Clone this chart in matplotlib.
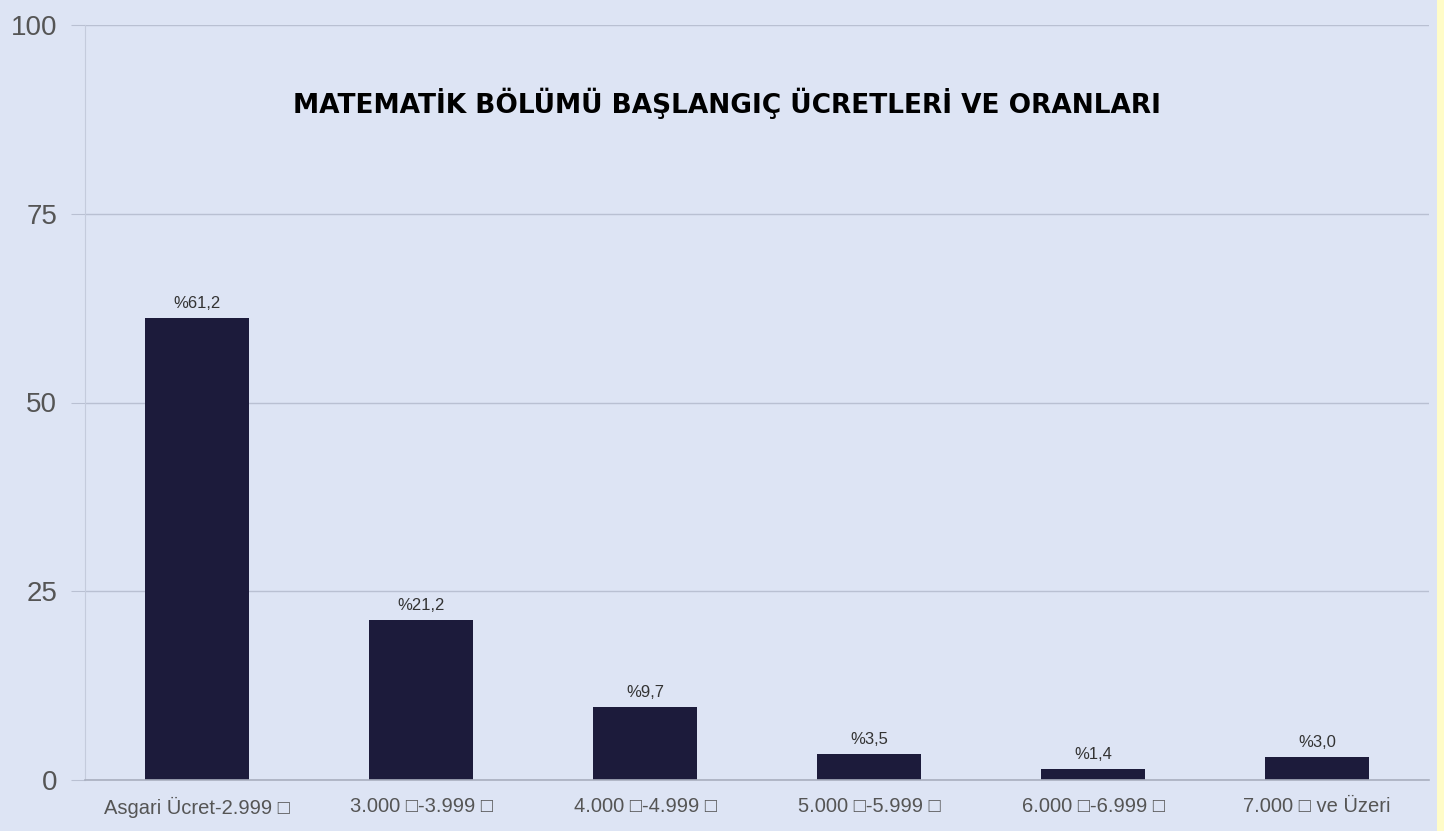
import matplotlib
matplotlib.use("Agg")
import matplotlib.pyplot as plt
from matplotlib.patches import Rectangle

categories = ["Asgari Ücret-2.999 □", "3.000 □-3.999 □", "4.000 □-4.999 □",
              "5.000 □-5.999 □", "6.000 □-6.999 □", "7.000 □ ve Üzeri"]
values = [61.2, 21.2, 9.7, 3.5, 1.4, 3.0]
labels = ["%61,2", "%21,2", "%9,7", "%3,5", "%1,4", "%3,0"]
yticks = [0, 25, 50, 75, 100]
title = "MATEMATİK BÖLÜMÜ BAŞLANGIÇ ÜCRETLERİ VE ORANLARI"

bg = "#dde4f4"
bar_color = "#1c1b3b"
grid_color = "#b9c0d2"
txt_color = "#555555"
fam = ["Liberation Sans Narrow", "Liberation Sans", "DejaVu Sans"]

fig = plt.figure(figsize=(14.44, 8.31), dpi=100, facecolor=bg)
W, H = 1444, 831
ax = fig.add_axes([85 / W, (H - 780) / H, (1429 - 85) / W, (780 - 25) / H])
ax.set_facecolor(bg)

x = list(range(len(categories)))
bars = ax.bar(x, values, width=0.46, color=bar_color, zorder=3)
ax.set_xlim(-0.5, len(categories) - 0.5)
ax.set_ylim(0, 100)

ax.set_yticks(yticks)
ax.set_yticklabels([str(t) for t in yticks], family=fam, fontsize=20, color=txt_color)
ax.yaxis.grid(True, color=grid_color, linewidth=1.0, zorder=0)
ax.tick_params(axis="y", length=10, color=grid_color, pad=10)
ax.set_xticks(x)
ax.set_xticklabels(categories, family=fam, fontsize=14.5, color=txt_color)
ax.tick_params(axis="x", length=0, pad=12)

for s in ["top", "right"]:
    ax.spines[s].set_visible(False)
ax.spines["left"].set_color("#c4cbdc")
ax.spines["bottom"].set_color("#a9afbf")
ax.spines["bottom"].set_linewidth(1.2)
ax.spines["bottom"].set_zorder(4)

for xi, v, lab in zip(x, values, labels):
    ax.annotate(lab, (xi, v), xytext=(0, 5), textcoords="offset points",
                ha="center", va="bottom", family=fam, fontsize=12, color="#333333")

ax.text((727 - 85) / (1429 - 85), (780 - 103) / (780 - 25), title, transform=ax.transAxes,
        ha="center", va="center", fontsize=19, fontweight="bold",
        family=["DejaVu Sans"], color="#000000")

fig.patches.append(Rectangle((1437 / W, 0), 7 / W, 1, transform=fig.transFigure,
                             facecolor="#fffcc8", edgecolor="none", zorder=10))

fig.savefig("out.png", dpi=100, facecolor=bg)
